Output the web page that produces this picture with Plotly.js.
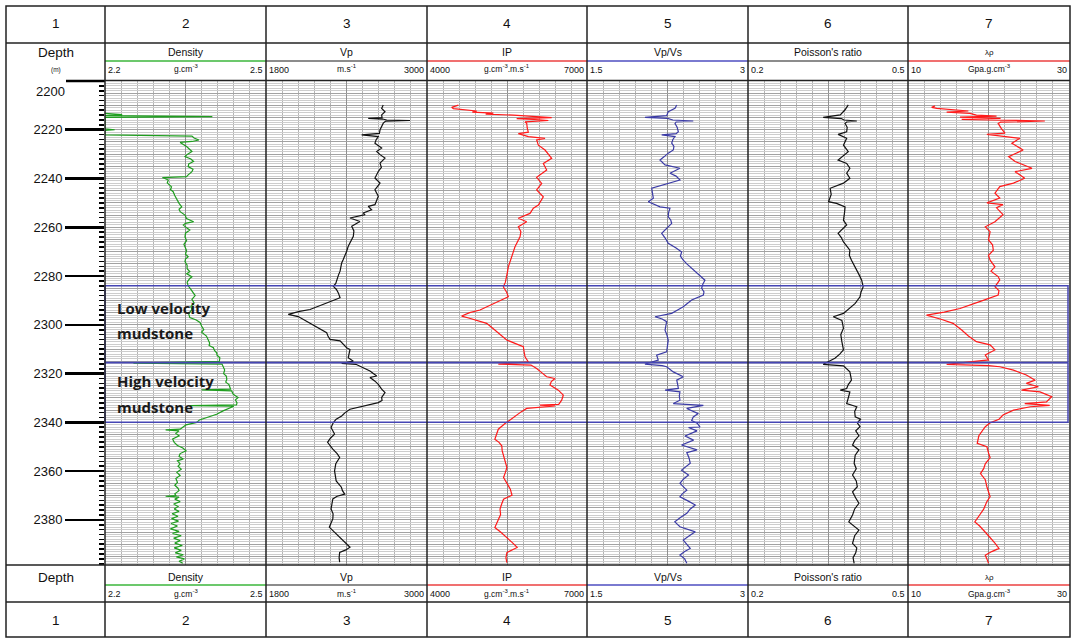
<!DOCTYPE html>
<html><head><meta charset="utf-8">
<script src="https://cdn.plot.ly/plotly-3.0.1.min.js"></script>
<style>html,body{margin:0;padding:0;background:#fff}#chart{width:1075px;height:640px}</style>
</head><body><div id="chart"></div>
<script>
// ---------- data ----------
const trackNumbers = ['1','2','3','4','5','6','7'];
const trackNames = ['Density','Vp','IP','Vp/Vs',"Poisson's ratio",'λρ'];
const trackUnits = ['g.cm<sup>-3</sup>','m.s<sup>-1</sup>','g.cm<sup>-3</sup>.m.s<sup>-1</sup>','','','Gpa.g.cm<sup>-3</sup>'];
const scaleMin = [2.2,1800,4000,1.5,0.2,10];
const scaleMax = [2.5,3000,7000,3,0.5,30];
const scaleMinLabel = ['2.2','1800','4000','1.5','0.2','10'];
const scaleMaxLabel = ['2.5','3000','7000','3','0.5','30'];
const depthRange = [2200, 2398.5];
const depthTicks = [2200,2220,2240,2260,2280,2300,2320,2340,2360,2380];
const zoneBounds = [2284, 2315.5, 2340];
const zoneLabels = ['Low velocity','mudstone','High velocity','mudstone'];

const denDepth = [2213.3,2213.8,2214.2,2214.6,2214.9,2219.6,2220.0,2220.3,2222.1,2222.6,2223.4,2224.2,2224.8,2225.2,2226.9,2228.9,2230.0,2231.0,2232.0,2233.0,2234.0,2235.1,2236.2,2237.2,2238.5,2239.2,2239.6,2240.6,2241.8,2243.4,2244.5,2245.4,2247.0,2248.8,2250.2,2251.6,2252.6,2253.6,2255.0,2256.4,2257.7,2258.4,2259.1,2260.2,2261.1,2262.4,2263.9,2265.5,2267.0,2268.0,2269.5,2271.0,2272.1,2273.0,2274.1,2275.5,2277.0,2278.2,2279.0,2280.3,2281.0,2282.5,2284.0,2285.5,2287.0,2288.0,2289.5,2291.0,2292.5,2293.7,2295.5,2297.0,2298.0,2299.0,2300.5,2302.0,2303.0,2304.6,2306.0,2307.5,2308.5,2309.4,2310.5,2311.5,2312.5,2313.5,2315.0,2315.7,2316.1,2317.0,2318.5,2320.0,2321.0,2322.3,2323.5,2324.5,2325.7,2326.4,2326.7,2327.1,2328.5,2329.8,2330.8,2332.0,2332.8,2333.1,2333.4,2334.0,2335.3,2336.7,2338.0,2339.0,2340.0,2341.0,2342.0,2342.8,2343.1,2343.5,2344.5,2345.5,2346.8,2348.2,2349.5,2350.5,2351.7,2352.8,2354.0,2355.0,2355.8,2357.0,2358.0,2359.2,2360.5,2361.8,2363.0,2364.6,2365.8,2367.0,2368.0,2369.3,2370.0,2370.3,2370.7,2371.5,2372.5,2373.5,2374.5,2375.5,2376.5,2377.5,2378.5,2379.5,2380.5,2381.5,2382.5,2383.7,2384.7,2385.5,2386.5,2387.5,2388.5,2389.5,2390.5,2391.5,2392.5,2393.5,2394.3,2395.2,2396.0,2397.0,2397.8];
const denVal = [2.2,2.232,2.2,2.4,2.2,2.2,2.218,2.2,2.2,2.362,2.366,2.375,2.362,2.340,2.352,2.362,2.354,2.349,2.360,2.365,2.356,2.355,2.364,2.362,2.355,2.352,2.307,2.318,2.316,2.324,2.322,2.327,2.330,2.334,2.338,2.343,2.338,2.340,2.349,2.352,2.365,2.350,2.346,2.352,2.358,2.350,2.349,2.352,2.347,2.349,2.352,2.350,2.355,2.350,2.349,2.353,2.353,2.358,2.352,2.362,2.358,2.353,2.355,2.360,2.364,2.368,2.362,2.366,2.360,2.362,2.356,2.358,2.370,2.377,2.380,2.384,2.380,2.389,2.392,2.395,2.394,2.402,2.404,2.408,2.409,2.414,2.413,2.253,2.418,2.420,2.423,2.421,2.426,2.427,2.425,2.431,2.433,2.434,2.380,2.436,2.439,2.448,2.443,2.446,2.445,2.358,2.440,2.433,2.420,2.408,2.389,2.376,2.371,2.351,2.345,2.340,2.313,2.338,2.332,2.338,2.326,2.329,2.335,2.345,2.351,2.340,2.338,2.346,2.335,2.340,2.336,2.342,2.334,2.340,2.332,2.335,2.330,2.336,2.338,2.330,2.332,2.313,2.338,2.330,2.340,2.328,2.336,2.329,2.338,2.325,2.336,2.324,2.337,2.323,2.335,2.322,2.338,2.326,2.342,2.328,2.340,2.330,2.344,2.329,2.342,2.331,2.346,2.333,2.348,2.338,2.345];

const vpDepth = [2209.8,2211.2,2212.6,2213.9,2215.0,2215.3,2215.6,2216.0,2216.2,2216.5,2217.3,2218.8,2220.0,2221.5,2222.1,2222.8,2224.2,2225.5,2227.5,2228.9,2230.2,2231.6,2233.7,2235.4,2237.1,2239.8,2241.9,2243.3,2244.6,2247.3,2249.0,2250.7,2251.4,2252.8,2254.1,2254.8,2256.2,2257.6,2259.6,2261.5,2263.7,2265.8,2267.8,2270.0,2271.9,2273.3,2274.6,2276.3,2278.0,2279.6,2281.4,2283.0,2284.2,2285.5,2286.9,2288.9,2290.0,2291.0,2292.3,2293.7,2294.5,2295.7,2296.6,2297.8,2299.1,2300.2,2301.2,2302.2,2303.2,2304.6,2306.0,2306.6,2308.0,2309.4,2310.1,2311.8,2313.5,2314.9,2315.8,2316.2,2316.9,2318.9,2321.0,2321.6,2323.0,2324.4,2326.4,2327.8,2329.8,2331.0,2331.9,2333.3,2334.6,2336.0,2337.4,2338.7,2340.1,2342.1,2344.8,2346.5,2348.2,2351.0,2352.8,2354.4,2357.0,2359.9,2362.0,2364.0,2366.6,2368.0,2369.4,2370.3,2371.4,2373.5,2375.5,2377.5,2379.6,2381.3,2383.0,2385.0,2387.1,2389.3,2391.2,2392.3,2393.3,2395.5,2397.3];
const vpVal = [2674,2662,2687,2662,2665,2562,2670,2700,2873,2690,2674,2660,2650,2645,2513,2637,2620,2612,2662,2625,2650,2687,2650,2660,2637,2612,2650,2630,2612,2637,2625,2612,2562,2587,2525,2538,2426,2500,2439,2455,2451,2430,2413,2400,2389,2375,2364,2360,2352,2340,2327,2320,2302,2325,2339,2352,2300,2252,2190,2128,2050,1966,2040,2078,2128,2160,2190,2225,2252,2262,2277,2352,2375,2401,2426,2420,2413,2451,2364,2470,2500,2575,2625,2575,2610,2637,2662,2687,2662,2665,2637,2525,2426,2390,2364,2323,2302,2285,2311,2280,2259,2298,2330,2349,2320,2311,2320,2323,2362,2370,2387,2330,2298,2290,2285,2300,2298,2285,2272,2310,2349,2390,2426,2395,2349,2345,2349];

const ipDepth = [2209.9,2210.8,2211.3,2211.6,2212.3,2212.8,2213.2,2213.6,2214.0,2215.0,2215.4,2215.9,2216.2,2216.8,2217.3,2219.3,2221.0,2221.6,2222.8,2223.5,2224.2,2226.3,2228.3,2231.7,2233.8,2236.5,2238.0,2239.5,2242.0,2244.7,2247.5,2250.9,2252.2,2254.3,2256.3,2257.7,2259.8,2261.8,2263.9,2266.0,2268.0,2270.0,2272.1,2274.2,2276.2,2278.2,2280.3,2282.5,2284.4,2286.5,2288.5,2290.0,2291.2,2292.5,2293.9,2295.0,2296.4,2297.2,2298.0,2299.4,2301.0,2302.8,2304.5,2306.2,2307.6,2309.0,2311.0,2313.1,2315.2,2316.1,2316.5,2317.9,2319.6,2321.3,2322.0,2323.3,2324.7,2326.8,2328.8,2330.0,2330.9,2332.6,2332.9,2333.3,2334.3,2335.6,2337.0,2338.7,2340.5,2342.8,2344.8,2346.9,2348.2,2349.6,2351.7,2353.7,2356.0,2358.5,2360.5,2362.6,2365.0,2367.4,2369.9,2370.7,2371.5,2373.5,2375.6,2377.8,2380.0,2383.1,2385.0,2387.2,2389.3,2391.3,2392.4,2393.4,2395.5,2397.5];
const ipVal = [4588,4463,4494,4600,4931,4850,5244,5100,5619,6338,5681,6100,6275,5838,5869,5880,5900,5713,5900,6213,6056,6088,6213,6338,6181,6244,6150,6056,6150,6056,6181,6088,5994,5931,5713,5869,5713,5760,5744,5690,5650,5620,5588,5550,5525,5510,5494,5470,5431,5490,5525,5380,5244,5110,4994,4800,4650,4780,4900,5119,5210,5306,5400,5494,5650,5806,5820,5838,5900,5337,5950,6056,6150,6244,6400,6330,6306,6463,6556,6540,6525,6470,6119,6400,5869,5770,5681,5560,5463,5337,5300,5272,5350,5402,5410,5435,5460,5498,5470,5435,5500,5562,5594,5500,5435,5400,5369,5380,5330,5272,5380,5498,5600,5691,5600,5498,5480,5498];

const vpvsDepth = [2209.8,2211.2,2212.6,2214.2,2214.9,2215.3,2216.0,2216.4,2216.8,2217.4,2219.0,2220.8,2221.6,2222.1,2222.8,2224.0,2225.5,2226.8,2228.3,2229.6,2231.0,2232.4,2234.4,2235.8,2237.8,2239.0,2240.6,2241.9,2243.0,2244.0,2246.0,2248.1,2249.5,2250.5,2251.6,2252.2,2254.0,2255.7,2257.0,2258.4,2260.5,2262.5,2264.5,2266.6,2268.5,2270.1,2271.8,2273.5,2275.0,2276.2,2277.5,2278.9,2280.3,2281.7,2283.2,2285.0,2286.5,2287.8,2289.8,2291.2,2292.6,2294.0,2295.3,2296.7,2297.6,2298.7,2300.5,2302.2,2304.2,2306.3,2308.5,2311.1,2312.4,2314.5,2316.1,2316.7,2317.2,2319.3,2321.3,2322.7,2324.5,2326.1,2326.8,2327.5,2329.2,2330.9,2332.3,2333.0,2334.3,2336.4,2337.8,2339.2,2340.5,2341.9,2342.1,2343.5,2345.6,2347.3,2349.3,2351.3,2352.4,2354.5,2356.8,2358.2,2359.6,2361.6,2363.2,2365.0,2366.4,2367.8,2369.2,2370.5,2372.2,2373.9,2375.6,2377.3,2379.0,2380.8,2382.8,2384.9,2386.6,2388.3,2390.0,2391.7,2393.0,2394.4,2396.0,2397.8];
const vpvsVal = [2.336,2.320,2.257,2.242,2.040,2.250,2.300,2.490,2.330,2.320,2.340,2.351,2.330,2.196,2.320,2.300,2.289,2.310,2.304,2.257,2.220,2.180,2.227,2.366,2.273,2.330,2.366,2.257,2.160,2.103,2.110,2.118,2.071,2.130,2.180,2.273,2.260,2.257,2.280,2.289,2.240,2.196,2.230,2.257,2.330,2.382,2.370,2.397,2.430,2.460,2.490,2.522,2.560,2.599,2.580,2.568,2.590,2.584,2.475,2.440,2.397,2.340,2.289,2.134,2.200,2.242,2.235,2.227,2.245,2.257,2.250,2.242,2.149,2.164,2.040,2.200,2.242,2.304,2.397,2.336,2.345,2.351,2.227,2.366,2.360,2.366,2.304,2.584,2.429,2.537,2.490,2.475,2.530,2.553,2.446,2.525,2.413,2.493,2.381,2.525,2.430,2.450,2.462,2.420,2.381,2.446,2.400,2.366,2.400,2.430,2.390,2.366,2.440,2.509,2.460,2.430,2.370,2.318,2.366,2.509,2.450,2.397,2.430,2.462,2.410,2.366,2.410,2.430];

const prDepth = [2209.8,2211.8,2213.9,2214.9,2215.4,2216.0,2216.4,2216.8,2217.4,2219.0,2220.8,2221.9,2223.5,2226.3,2229.0,2232.4,2233.8,2235.8,2237.8,2239.9,2241.9,2244.0,2246.5,2249.5,2250.2,2251.6,2254.0,2257.1,2259.0,2262.5,2264.2,2266.0,2269.4,2271.5,2273.5,2276.2,2277.5,2278.9,2281.6,2284.4,2286.5,2288.5,2291.2,2293.2,2295.3,2296.7,2298.2,2301.4,2304.0,2306.9,2310.3,2312.0,2313.7,2316.2,2316.8,2319.3,2322.7,2324.5,2326.1,2326.8,2327.5,2330.0,2332.3,2333.6,2335.5,2337.7,2338.7,2340.2,2341.8,2343.5,2345.5,2347.5,2349.3,2351.3,2353.5,2356.8,2359.0,2361.6,2364.0,2366.4,2368.5,2371.0,2373.2,2375.5,2378.0,2380.8,2382.5,2384.2,2386.5,2389.6,2391.5,2393.5,2395.5,2397.8];
const prVal = [0.388,0.382,0.373,0.341,0.375,0.380,0.404,0.385,0.382,0.386,0.385,0.369,0.385,0.379,0.388,0.369,0.385,0.391,0.385,0.391,0.379,0.354,0.356,0.351,0.366,0.382,0.381,0.379,0.385,0.369,0.375,0.379,0.391,0.390,0.394,0.401,0.404,0.407,0.413,0.416,0.412,0.410,0.401,0.390,0.379,0.360,0.376,0.379,0.374,0.376,0.379,0.372,0.363,0.341,0.379,0.391,0.394,0.388,0.385,0.373,0.391,0.388,0.385,0.404,0.400,0.401,0.411,0.405,0.410,0.402,0.408,0.400,0.396,0.408,0.401,0.399,0.403,0.396,0.403,0.405,0.396,0.402,0.408,0.400,0.396,0.389,0.398,0.408,0.400,0.396,0.404,0.402,0.397,0.399];

const lrDepth = [2210.2,2210.8,2211.2,2211.8,2212.3,2212.8,2213.3,2214.0,2214.4,2214.8,2215.3,2215.7,2216.4,2216.9,2217.4,2219.5,2221.4,2221.9,2222.8,2223.5,2225.5,2228.3,2231.0,2233.0,2235.8,2237.2,2239.9,2241.9,2243.3,2246.0,2248.0,2250.0,2250.7,2252.0,2254.8,2257.7,2259.8,2261.8,2265.2,2267.2,2269.4,2271.5,2273.5,2276.2,2278.0,2280.2,2281.6,2284.4,2286.0,2287.8,2290.5,2293.3,2294.8,2296.0,2297.8,2299.4,2302.1,2304.6,2306.9,2308.2,2310.3,2312.4,2314.4,2316.2,2316.7,2317.2,2318.6,2320.6,2322.7,2324.0,2325.4,2326.8,2327.5,2329.5,2331.6,2332.3,2333.0,2333.6,2335.0,2337.0,2338.7,2340.2,2341.8,2343.5,2345.5,2348.6,2350.0,2352.5,2354.5,2357.0,2359.0,2361.0,2363.5,2366.4,2368.5,2370.5,2372.5,2375.6,2378.0,2380.8,2382.5,2384.2,2386.5,2389.5,2391.7,2393.0,2394.5,2396.0,2397.8];
const lrVal = [13.35,12.94,13.57,15.5,17.5,14.8,17.7,18.5,21.0,16.46,21.5,16.67,27.0,21.5,21.2,21.6,22.05,19.8,21.8,23.9,22.9,24.3,22.5,23.3,25.4,23.3,24.5,23.1,21.4,20.8,21.4,19.8,21.8,21.0,21.8,20.8,19.6,20.2,20.0,20.5,20.6,20.0,20.2,20.8,20.3,21.2,21.4,20.8,21.3,21.2,18.9,16.46,14.5,12.3,14.2,15.6,16.67,17.5,18.5,20.2,20.8,19.6,20.0,14.8,20.0,21.4,23.1,24.7,25.8,24.7,26.2,24.1,26.4,27.85,27.2,24.5,27.6,25.2,23.1,21.8,21.3,20.2,19.6,19.2,18.8,18.6,19.8,20.0,20.2,19.6,19.4,19.0,19.6,19.8,20.0,20.2,19.8,19.4,18.9,18.3,18.9,19.4,20.0,20.8,21.3,20.4,19.6,19.8,20.0];

// ---------- styles / layout geometry ----------
const W = 1075, H = 640;
const colX = [6,105,266,427,587,748,908,1070];
const trackRight = [266,427,587,748,908,1069];
const rowY = {top:6, r1:43, r2:80, trackTop:81, trackBot:565, f1:602, bottom:637};
const curveColors = ['#1f9e1f','#111111','#ff1a1a','#3b3ba6','#111111','#ff1a1a'];
const headerLineColors = ['#6cc86c','#8c8c8c','#f07070','#7a7ad0','#8c8c8c','#f07070'];
const FONT = 'Liberation Sans, Arial, sans-serif';
const px = x => x / W;
const py = y => 1 - y / H;

const curveDepths = [denDepth, vpDepth, ipDepth, vpvsDepth, prDepth, lrDepth];
const curveVals = [denVal, vpVal, ipVal, vpvsVal, prVal, lrVal];

const traces = [];
const layout = {
  width: W, height: H, margin: {l:0,r:0,t:0,b:0},
  paper_bgcolor: '#fff', plot_bgcolor: '#fff', showlegend: false,
  font: {family: FONT, color: '#111'},
  shapes: [], annotations: []
};

const yDom = [py(rowY.trackBot), py(rowY.trackTop)];
layout.yaxis = {
  domain: yDom, range: [depthRange[1], depthRange[0]], anchor: 'x',
  showgrid: true, dtick: 5, tick0: 2200, gridcolor: '#a2a2a2', gridwidth: 1,
  minor: {dtick: 1, tick0: 2200, showgrid: true, gridcolor: '#cdcdcd', gridwidth: 1},
  showticklabels: false, ticks: '', zeroline: false, showline: false, fixedrange: true
};
// depth ticks (labels below 2200 come from the axis; 2200 sits on the top edge)
layout.yaxis2 = {
  overlaying: 'y', anchor: 'x', side: 'left',
  range: [depthRange[1], depthRange[0]],
  tickmode: 'array', tickvals: depthTicks.slice(1),
  ticks: 'outside', ticklen: 39, tickwidth: 2.6, tickcolor: '#000',
  minor: {tickmode: 'linear', dtick: 2, tick0: 2200, ticks: 'outside', ticklen: 5, tickwidth: 1.6, tickcolor: '#000', showgrid: false},
  showgrid: false, zeroline: false, showline: false,
  tickfont: {family: FONT, size: 13, color: '#111'}, fixedrange: true
};
traces.push({x: [null], y: [null], xaxis: 'x', yaxis: 'y2', mode: 'lines', hoverinfo: 'skip'});

for (let i = 0; i < 6; i++) {
  const key = i === 0 ? 'xaxis' : 'xaxis' + (i + 1);
  const span = scaleMax[i] - scaleMin[i];
  layout[key] = {
    domain: [px(colX[i + 1]), px(trackRight[i])],
    range: [scaleMin[i], scaleMax[i]], anchor: 'y',
    showgrid: true, tick0: scaleMin[i], dtick: span / 2, gridcolor: '#8f8f8f', gridwidth: 1,
    minor: {tick0: scaleMin[i], dtick: span / 10, showgrid: true, gridcolor: '#b4b4b4', gridwidth: 1},
    showticklabels: false, ticks: '', zeroline: false, showline: false, fixedrange: true
  };
  traces.push({
    x: curveVals[i], y: curveDepths[i],
    xaxis: i === 0 ? 'x' : 'x' + (i + 1), yaxis: 'y',
    mode: 'lines', line: {color: curveColors[i], width: 1.2},
    hoverinfo: 'skip'
  });
}

// table lines
const S = layout.shapes;
const line = (x0, y0, x1, y1, color, width) => S.push({type: 'line', xref: 'paper', yref: 'paper',
  x0: px(x0), y0: py(y0), x1: px(x1), y1: py(y1), line: {color: color, width: width}});
for (let i = 0; i < 6; i++) {
  line(colX[i + 1], 61, colX[i + 2], 61, headerLineColors[i], 2);
  line(colX[i + 1], 585, colX[i + 2], 585, headerLineColors[i], 2);
}
S.push({type: 'rect', xref: 'paper', yref: 'y', x0: px(105), x1: px(1068),
  y0: zoneBounds[0], y1: zoneBounds[2], line: {color: '#4646b4', width: 1.5}});
S.push({type: 'line', xref: 'paper', yref: 'y', x0: px(105), x1: px(1068),
  y0: zoneBounds[1], y1: zoneBounds[1], line: {color: '#4646b4', width: 1.8}});
line(6, 43, 1070, 43, '#222', 1.5);
line(66, 81, 105, 81, '#000', 2.6);
line(105, 80.5, 1070, 80.5, '#222', 1.5);
line(6, 565, 1070, 565, '#222', 1.5);
line(6, 602, 1070, 602, '#222', 1.5);
for (let i = 1; i <= 6; i++) line(colX[i], 6, colX[i], 637, '#222', 1.5);
S.push({type: 'rect', xref: 'paper', yref: 'paper', x0: px(6), y0: py(6), x1: px(1070), y1: py(637),
  line: {color: '#222', width: 1.5}});

// text
const A = layout.annotations;
const txt = (x, y, text, size, anchor, extra) => A.push(Object.assign({
  xref: 'paper', yref: 'paper', x: px(x), y: py(y), text: text, showarrow: false,
  xanchor: anchor || 'center', yanchor: 'middle', font: {family: FONT, size: size, color: '#111'}
}, extra || {}));
for (let i = 0; i < 7; i++) {
  const cx = (colX[i] + colX[i + 1]) / 2;
  txt(cx, 24, trackNumbers[i], 13.5);
  txt(cx, 620, trackNumbers[i], 13.5);
}
txt(55.5, 52, 'Depth', 13.5);
txt(55.5, 577, 'Depth', 13.5);
txt(55.5, 70, '(m)', 6.5);
for (let i = 0; i < 6; i++) {
  const l = colX[i + 1], r = colX[i + 2], cx = (l + r) / 2;
  const nameSize = i === 5 ? 8 : 10.5;
  [[52, 70], [577, 594]].forEach(([yn, ys]) => {
    txt(cx, yn, trackNames[i], nameSize);
    txt(l + 1, ys, scaleMinLabel[i], 9, 'left');
    txt(r - 1, ys, scaleMaxLabel[i], 9, 'right');
    if (trackUnits[i]) txt(cx, ys - 1, trackUnits[i], 8.5);
  });
}
A.push({xref: 'paper', yref: 'y', x: px(67), y: depthTicks[0], text: String(depthTicks[0]), showarrow: false,
  xanchor: 'right', yanchor: 'top', yshift: -1, font: {family: FONT, size: 13, color: '#111'}});
const zoneLabelY = [308, 333, 381, 407];
zoneLabels.forEach((t, i) => txt(115, zoneLabelY[i], '<b>' + t + '</b>', 15, 'left',
  {font: {family: 'Open Sans, Noto Sans, sans-serif', size: 15, color: '#1a1a1a'}}));

Plotly.newPlot('chart', traces, layout, {staticPlot: true, displayModeBar: false});
</script>
</body></html>
